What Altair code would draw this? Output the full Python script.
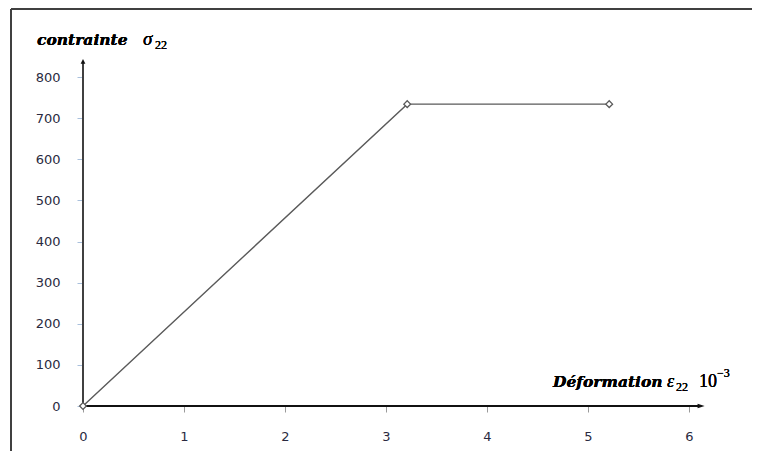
import altair as alt
import pandas as pd

# data
strain = [0.0, 3.21, 5.21]
stress = [0.0, 734.0, 734.0]
x_ticks = [0, 1, 2, 3, 4, 5, 6]
y_ticks = [0, 100, 200, 300, 400, 500, 600, 700, 800]

W, H = 606, 329
df = pd.DataFrame({"x": strain, "y": stress})

xs = alt.Scale(domain=[0, 6], nice=False, zero=False)
ys = alt.Scale(domain=[0, 800], nice=False)

base = alt.Chart(df)

line = base.mark_line(color="#5a5a5a", strokeWidth=1.4).encode(
    x=alt.X("x:Q", scale=xs, axis=alt.Axis(
        values=x_ticks, format="d", title=None, domain=False, grid=False,
        labelFlush=False, labelOverlap=False,
        tickColor="#9a9a9a", tickSize=6, labelPadding=18,
        labelFont="DejaVu Sans", labelFontSize=13, labelColor="#2a2a40")),
    y=alt.Y("y:Q", scale=ys, axis=alt.Axis(
        values=y_ticks, format="d", title=None, domain=False, grid=False,
        labelFlush=False, labelOverlap=False,
        tickColor="#a9c0dc", tickSize=6, labelPadding=17,
        labelFont="DejaVu Sans", labelFontSize=13, labelColor="#2a2a40")),
)
pts = base.mark_point(shape="diamond", filled=True, fill="white",
                      stroke="#5a5a5a", strokeWidth=1.3, size=45, opacity=1).encode(
    x=alt.X("x:Q", scale=xs), y=alt.Y("y:Q", scale=ys))

# axis arrows (decoration)
ax_df = pd.DataFrame({"x0": [0.0], "x1": [6.12], "y0": [0.0], "y1": [838.0]})
yaxis = alt.Chart(ax_df).mark_rule(color="#404040", strokeWidth=2).encode(
    x=alt.X("y0:Q", scale=xs), y=alt.Y("y0:Q", scale=ys), y2="y1:Q")
xaxis = alt.Chart(ax_df).mark_rule(color="#111111", strokeWidth=2).encode(
    x=alt.X("x0:Q", scale=xs), x2="x1:Q", y=alt.Y("y0:Q", scale=ys))
head_up = alt.Chart(ax_df).mark_point(
    shape="M-0.5,0.5L0,-0.5L0.5,0.5Z", filled=True, color="#111111", size=90, opacity=1
).encode(x=alt.X("y0:Q", scale=xs), y=alt.Y("y1:Q", scale=ys))
head_right = alt.Chart(ax_df).mark_point(
    shape="M-0.5,-0.33L0.5,0L-0.5,0.33Z", filled=True, color="#111111", size=200, opacity=1
).encode(x=alt.X("x1:Q", scale=xs), y=alt.Y("y0:Q", scale=ys))

# frame
frame_top = alt.Chart(df).mark_rule(color="#404040", strokeWidth=2).encode(
    x=alt.value(-72), x2=alt.value(W + 80), y=alt.value(-68))
frame_left = alt.Chart(df).mark_rule(color="#404040", strokeWidth=2).encode(
    x=alt.value(-72), y=alt.value(-68), y2=alt.value(H + 60))

serif = "DejaVu Serif"
tserif = "Liberation Serif"

def txt(s, x, y, size, style="italic", weight="bold", font=serif):
    return alt.Chart(df).mark_text(
        text=s, font=font, fontSize=size, fontStyle=style, fontWeight=weight,
        align="left", baseline="alphabetic", color="#000000"
    ).encode(x=alt.value(x), y=alt.value(y))

labels = [
    txt("contrainte", -46, -32, 15.5),
    txt("σ", 60, -32, 19, weight="normal", font=tserif),
    txt("22", 72, -28, 12, style="normal", weight="normal", font=tserif),
    txt("Déformation", 470, 310, 15.5),
    txt("ε", 584, 310, 18, weight="normal", font=tserif),
    txt("22", 593, 314, 12, style="normal", weight="normal", font=tserif),
    txt("10", 616, 310, 18, style="normal", weight="normal", font=tserif),
    txt("−3", 634, 300, 12, style="normal", weight="normal", font=tserif),
]

chart = alt.layer(frame_top, frame_left, line, yaxis, xaxis, head_up, head_right, pts, *labels).properties(
    width=W, height=H,
    background="white",
    autosize=alt.AutoSizeParams(type="none"),
    padding={"left": 75, "top": 69, "right": 63, "bottom": 45},
).configure_view(strokeWidth=0, stroke="transparent")

chart.save("out.html", embed_options={"renderer": "svg", "actions": False})
